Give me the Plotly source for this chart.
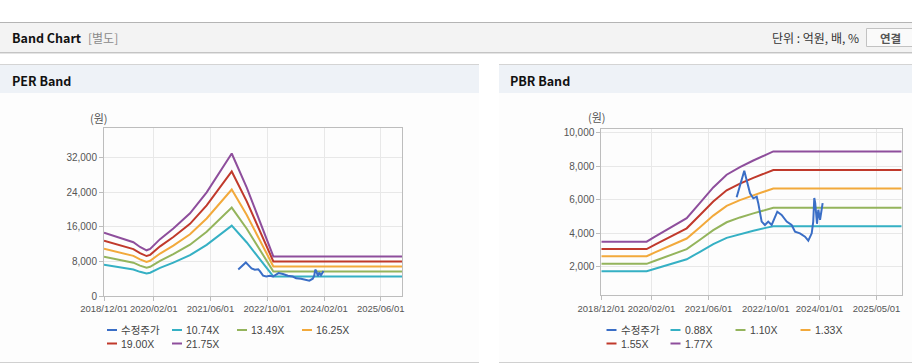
import plotly.graph_objects as go

W, H = 912, 364

# ---------------- data ----------------
price_dates = ["2022-01-26", "2022-03-05", "2022-04-01", "2022-04-21", "2022-05-20", "2022-06-17",
               "2022-07-16", "2022-07-29", "2022-08-27", "2022-09-24", "2022-10-22", "2022-11-20",
               "2022-12-18", "2023-01-07", "2023-02-13", "2023-03-28", "2023-05-09", "2023-06-07",
               "2023-07-19", "2023-08-31", "2023-09-28", "2023-10-27", "2023-11-09", "2023-11-18",
               "2023-11-26", "2023-12-11", "2023-12-22", "2024-01-06", "2024-01-28"]
price_vals = [6140, 7000, 7730, 7180, 6380, 6080,
              6180, 5790, 4690, 4490, 4690, 4490,
              4990, 5280, 5090, 4690, 4490, 4090,
              3990, 3790, 3550, 3990, 4690, 6100,
              5800, 4560, 5400, 4800, 5790]

per_dates = ["2018-12-01", "2019-04-15", "2019-08-10", "2019-10-06", "2019-12-01", "2020-01-01",
             "2020-03-26", "2020-07-18", "2020-12-08", "2021-04-30", "2021-08-23", "2021-12-01",
             "2022-04-09", "2022-08-01", "2022-11-23", "2025-12-01"]
per_1074 = [7220, 6610, 6120, 5580, 5210, 5370, 6480, 7690, 9420, 11810, 14180, 16240, 12350, 8490, 4510, 4510]
per_1349 = [9070, 8300, 7690, 7010, 6540, 6750, 8130, 9660, 11830, 14840, 17810, 20400, 15510, 10660, 5670, 5670]
per_1625 = [10920, 9990, 9260, 8450, 7880, 8130, 9800, 11640, 14250, 17880, 21450, 24570, 18690, 12840, 6830, 6830]
per_1900 = [12770, 11690, 10830, 9880, 9220, 9500, 11460, 13600, 16660, 20900, 25080, 28730, 21850, 15010, 7980, 7980]
per_2175 = [14620, 13380, 12400, 11310, 10550, 10880, 13120, 15570, 19080, 23930, 28710, 32890, 25010, 17180, 9140, 9140]

pbr_dates = ["2018-12-01", "2019-12-22", "2020-03-02", "2020-08-05", "2020-11-27", "2021-03-20",
             "2021-07-11", "2021-11-02", "2021-12-01", "2022-02-23", "2022-06-17", "2022-10-09",
             "2022-12-04", "2025-12-01"]
pbr_088 = [1730, 1730, 1880, 2190, 2440, 2890, 3340, 3720, 3780, 3950, 4150, 4330, 4410, 4410]
pbr_110 = [2170, 2170, 2350, 2740, 3050, 3610, 4180, 4650, 4730, 4940, 5180, 5420, 5520, 5520]
pbr_133 = [2620, 2620, 2850, 3310, 3680, 4360, 5050, 5630, 5720, 5970, 6260, 6550, 6670, 6670]
pbr_155 = [3050, 3050, 3320, 3860, 4290, 5080, 5890, 6560, 6670, 6960, 7300, 7630, 7770, 7770]
pbr_177 = [3490, 3490, 3790, 4410, 4900, 5810, 6730, 7490, 7610, 7950, 8340, 8720, 8880, 8880]

per_names = ["수정주가", "10.74X", "13.49X", "16.25X", "19.00X", "21.75X"]
pbr_names = ["수정주가", "0.88X", "1.10X", "1.33X", "1.55X", "1.77X"]

per_tickvals = ["2018-12-01", "2020-02-01", "2021-06-01", "2022-10-01", "2024-02-01", "2025-06-01"]
per_ticktext = ["2018/12/01", "2020/02/01", "2021/06/01", "2022/10/01", "2024/02/01", "2025/06/01"]
pbr_tickvals = ["2018-12-01", "2020-02-01", "2021-06-01", "2022-10-01", "2024-01-01", "2025-05-01"]
pbr_ticktext = ["2018/12/01", "2020/02/01", "2021/06/01", "2022/10/01", "2024/01/01", "2025/05/01"]
per_yticks = [0, 8000, 16000, 24000, 32000]
pbr_yticks = [2000, 4000, 6000, 8000, 10000]

colors = ["#3a6ec6", "#35b0c4", "#94b45c", "#f2a93b", "#c0392b", "#8e4e9c"]

# ---------------- helpers ----------------
def fx(x):
    return x / W

def fy(y):
    return 1 - y / H

fig = go.Figure()

per_bands = [per_1074, per_1349, per_1625, per_1900, per_2175]
pbr_bands = [pbr_088, pbr_110, pbr_133, pbr_155, pbr_177]

for i, band in enumerate(per_bands):
    fig.add_trace(go.Scatter(x=per_dates, y=band, mode="lines", name=per_names[i + 1],
                             line=dict(color=colors[i + 1], width=2), xaxis="x", yaxis="y"))
fig.add_trace(go.Scatter(x=price_dates, y=price_vals, mode="lines", name=per_names[0],
                         line=dict(color=colors[0], width=2), xaxis="x", yaxis="y"))

for i, band in enumerate(pbr_bands):
    fig.add_trace(go.Scatter(x=pbr_dates, y=band, mode="lines", name=pbr_names[i + 1],
                             line=dict(color=colors[i + 1], width=2), xaxis="x2", yaxis="y2"))
fig.add_trace(go.Scatter(x=price_dates, y=price_vals, mode="lines", name=pbr_names[0],
                         line=dict(color=colors[0], width=2), xaxis="x2", yaxis="y2"))

axis_common = dict(showline=True, linecolor="#bdbdbd", linewidth=1, mirror=True,
                   showgrid=True, gridcolor="#e8e8e8", gridwidth=1, zeroline=False,
                   ticks="outside", ticklen=4, tickcolor="#bdbdbd", fixedrange=True,
                   automargin=False)
xfont = dict(family="Liberation Sans, Arial, sans-serif", size=9.5, color="#555555")
yfont = dict(family="Liberation Sans, Arial, sans-serif", size=10, color="#555555")

fig.update_layout(
    template="none",
    width=W, height=H, autosize=False,
    margin=dict(l=0, r=0, t=0, b=0, pad=0, autoexpand=False),
    paper_bgcolor="#ffffff", plot_bgcolor="#ffffff",
    showlegend=False, hovermode=False,
    xaxis=dict(domain=[fx(104), fx(402)], type="date", range=["2018-12-01", "2025-12-01"],
               tickvals=per_tickvals, ticktext=per_ticktext, tickfont=xfont, tickangle=0,
               anchor="y", **axis_common),
    yaxis=dict(domain=[fy(296), fy(128)], range=[0, 38770], tickvals=per_yticks,
               tickformat=",", tickfont=yfont, anchor="x", **axis_common),
    xaxis2=dict(domain=[fx(601.3), fx(901.7)], type="date", range=["2018-12-01", "2025-12-01"],
                tickvals=pbr_tickvals, ticktext=pbr_ticktext, tickfont=xfont, tickangle=0,
                anchor="y2", **axis_common),
    yaxis2=dict(domain=[fy(295.3), fy(129)], range=[290, 10220], tickvals=pbr_yticks,
                tickformat=",", tickfont=yfont, anchor="x2", **axis_common),
)

shapes = []
def rect(x0, y0, x1, y1, fill, line_color=None, lw=0):
    shapes.append(dict(type="rect", xref="paper", yref="paper", x0=fx(x0), x1=fx(x1),
                       y0=fy(y1), y1=fy(y0), fillcolor=fill,
                       line=dict(color=line_color or fill, width=lw), layer="below"))

def hline(x0, x1, y, color, w=1, layer="below"):
    shapes.append(dict(type="line", xref="paper", yref="paper", x0=fx(x0), x1=fx(x1),
                       y0=fy(y), y1=fy(y), line=dict(color=color, width=w), layer=layer))

# header bar
rect(0, 22, 912, 52.5, "#f3f3f3")
hline(0, 912, 22.5, "#b4b4b4")
hline(0, 912, 52.5, "#c4c4c4")
hline(0, 912, 53.5, "#e4e4e4")
# button
rect(866.5, 28.5, 915, 46.5, "#fafafa", "#c2c2c2", 1)

# panels
for (a, b) in [(0, 479), (499, 912)]:
    rect(a, 64, b, 363, "#fdfdfd")
    rect(a, 64.5, b, 93, "#eef2f7")
    hline(a, b, 64.5, "#d4d4d4")
    hline(a, b, 362.5, "#d0d0d0")

annotations = []
def text(x, y, s, size=12, color="#333333", family="Noto Sans CJK KR, Noto Sans, sans-serif",
         anchor="left"):
    annotations.append(dict(x=fx(x), y=fy(y), xref="paper", yref="paper", text=s, showarrow=False,
                            xanchor=anchor, yanchor="middle", borderpad=0,
                            font=dict(size=size, color=color, family=family)))

text(11, 38, "<b>Band Chart</b>", size=12.5, color="#111111")
text(87, 38, "[별도]", size=12, color="#8a8a8a")
text(860, 38, "단위 : 억원, 배, %", size=12, color="#333333", anchor="right")
text(890, 38, "<b>연결</b>", size=11.5, color="#555555", anchor="center")
text(11, 80, "<b>PER Band</b>", size=12.5, color="#111111")
text(509, 80, "<b>PBR Band</b>", size=12.5, color="#111111")
text(99, 118, "(원)", size=11, color="#555555", anchor="center")
text(597, 117, "(원)", size=11, color="#555555", anchor="center")

# legends (manual, matching the reference layout)
def legend(xs, names):
    rows = [330, 343.5]
    for i, nm in enumerate(names):
        col = i % 4 if i < 4 else i - 4
        row = 0 if i < 4 else 1
        x = xs[col]
        hline(x, x + 10, rows[row], colors[i], w=2, layer="above")
        text(x + 13, rows[row], nm, size=10.5, color="#444444",
             family="Liberation Sans, Noto Sans CJK KR, sans-serif")

legend([107, 172, 237, 302], per_names)
legend([606.5, 670.5, 735.5, 800.5], pbr_names)

fig.update_layout(shapes=shapes, annotations=annotations)
fig.write_html(
    "out.html",
    config={"displayModeBar": False, "responsive": False},
    post_script=("var s=document.documentElement.style;s.margin='0';s.padding='0';s.overflow='hidden';"
                 "var b=document.body.style;b.margin='0';b.padding='0';b.overflow='hidden';"),
)
